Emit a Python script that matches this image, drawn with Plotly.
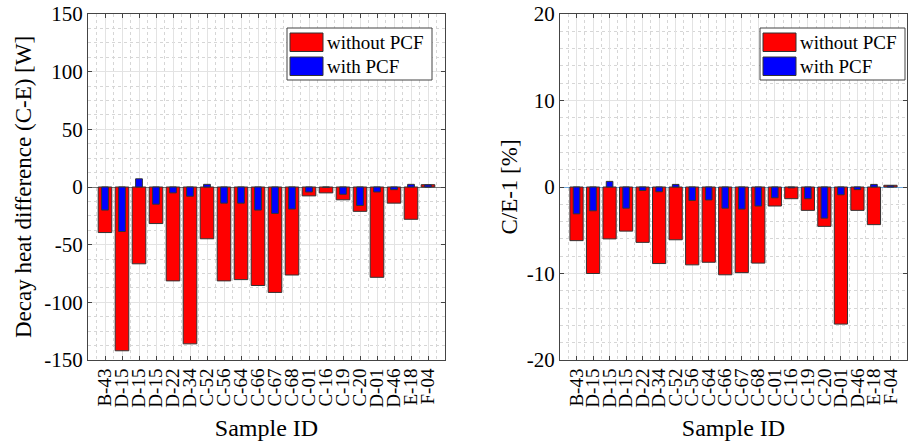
import plotly.graph_objects as go

labels = ["B-43", "D-15", "D-15", "D-15", "D-22", "D-34", "C-52", "C-56", "C-64", "C-66",
          "C-67", "C-68", "C-01", "C-16", "C-19", "C-20", "D-01", "D-46", "E-18", "F-04"]
heat_without = [-39.5, -142, -66.6, -31.7, -81.4, -136, -44.9, -81.4, -80.3, -85.4,
                -91.4, -76.3, -7.7, -5.1, -11.1, -21.1, -78.3, -14, -28, 2]
heat_with = [-20, -38.6, 7.1, -14.9, -5.1, -8, 2.3, -14, -14, -20,
             -22.9, -19.1, -4.3, -0.3, -6.3, -16, -4.3, -2.3, 2.3, 1.8]
ratio_without = [-6.2, -10.0, -6.0, -5.1, -6.4, -8.85, -6.1, -9.0, -8.7, -10.15,
                 -9.9, -8.8, -2.2, -1.35, -2.7, -4.55, -15.85, -2.7, -4.35, 0.2]
ratio_with = [-3.1, -2.75, 0.65, -2.45, -0.4, -0.55, 0.3, -1.55, -1.5, -2.45,
              -2.55, -2.2, -1.25, -0.1, -1.35, -3.6, -0.9, -0.3, 0.3, 0.15]
heat_ticks = [150, 100, 50, 0, -50, -100, -150]
ratio_ticks = [20, 10, 0, -10, -20]
series_names = ["without PCF", "with PCF"]

xs = list(range(1, len(labels) + 1))
FONT = "'Liberation Serif', 'Times New Roman', Times, serif"
RED = "#ff0000"
BLUE = "#0000ff"
EDGE = "#333333"
COLORS = [RED, BLUE]

fig = go.Figure()
fig.add_trace(go.Bar(x=xs, y=heat_without, width=0.8, name=series_names[0],
                     marker=dict(color=RED, line=dict(color=EDGE, width=1)),
                     xaxis="x", yaxis="y", showlegend=False))
fig.add_trace(go.Bar(x=xs, y=heat_with, width=0.4, name=series_names[1],
                     marker=dict(color=BLUE, line=dict(color=EDGE, width=1)),
                     xaxis="x", yaxis="y", showlegend=False))
fig.add_trace(go.Bar(x=xs, y=ratio_without, width=0.8, name=series_names[0],
                     marker=dict(color=RED, line=dict(color=EDGE, width=1)),
                     xaxis="x2", yaxis="y2", showlegend=False))
fig.add_trace(go.Bar(x=xs, y=ratio_with, width=0.4, name=series_names[1],
                     marker=dict(color=BLUE, line=dict(color=EDGE, width=1)),
                     xaxis="x2", yaxis="y2", showlegend=False))

L, R, T, B = 88, 2, 14, 87
W, H = 909, 447
pw = W - L - R


def xd(px):
    return (px - L) / pw


def yd(py):
    return (H - B - py) / (H - T - B)


common_x = dict(
    range=[0, 21], tickmode="array", tickvals=xs, ticktext=labels, tickangle=-90,
    tickfont=dict(family=FONT, size=19, color="black"),
    ticks="inside", ticklen=4, tickcolor="#444", showline=True, linecolor="#444",
    linewidth=1, mirror="allticks", showgrid=True, gridcolor="#e3e3e3", gridwidth=1,
    minor=dict(tick0=0.5, dtick=1, showgrid=True, gridcolor="#d6d6d6", griddash="dot",
               ticks=""),
    zeroline=False,
    title=dict(text="Sample ID", font=dict(family=FONT, size=24, color="black"), standoff=12),
    automargin=False,
)
common_y = dict(
    ticks="inside", ticklen=4, tickcolor="#444", showline=True, linecolor="#444",
    linewidth=1, mirror="allticks", showgrid=True, gridcolor="#e3e3e3", gridwidth=1,
    tickfont=dict(family=FONT, size=21, color="black"), automargin=False,
)

# legend boxes drawn as decorations (box left/right px)
shapes = []
annotations = []
for box_l, box_r in [(287, 432), (760, 905)]:
    shapes.append(dict(type="rect", xref="paper", yref="paper",
                       x0=xd(box_l), x1=xd(box_r), y0=yd(80), y1=yd(28),
                       fillcolor="white", line=dict(color="#444", width=1), layer="above"))
    for i, (nm, col) in enumerate(zip(series_names, COLORS)):
        top = 33 + i * 24
        shapes.append(dict(type="rect", xref="paper", yref="paper",
                           x0=xd(box_l + 3), x1=xd(box_l + 36), y0=yd(top + 18.5), y1=yd(top),
                           fillcolor=col, line=dict(color="#333", width=1), layer="above"))
        annotations.append(dict(xref="paper", yref="paper", x=xd(box_l + 38), y=yd(top + 9.5),
                                xanchor="left", yanchor="middle", showarrow=False, text=nm,
                                font=dict(family=FONT, size=19, color="black")))

fig.update_layout(
    width=W, height=H, margin=dict(l=L, r=R, t=T, b=B),
    paper_bgcolor="white", plot_bgcolor="white", barmode="overlay",
    font=dict(family=FONT, color="black"), showlegend=False,
    xaxis=dict(domain=[0, xd(445)], anchor="y", **common_x),
    xaxis2=dict(domain=[xd(560), 1], anchor="y2", **common_x),
    yaxis=dict(domain=[0, 1], anchor="x", range=[-150, 150], tickmode="array",
               tickvals=heat_ticks, ticktext=[str(v) for v in heat_ticks],
               minor=dict(dtick=12.5, tick0=0, showgrid=True, gridcolor="#d6d6d6",
                          griddash="dot", ticks=""),
               zeroline=True, zerolinecolor="#777", zerolinewidth=1,
               title=dict(text="Decay heat difference (C-E) [W]",
                          font=dict(family=FONT, size=23, color="black"), standoff=6),
               **common_y),
    yaxis2=dict(domain=[0, 1], anchor="x2", range=[-20, 20], tickmode="array",
                tickvals=ratio_ticks, ticktext=[str(v) for v in ratio_ticks],
                minor=dict(dtick=2, tick0=0, showgrid=True, gridcolor="#d6d6d6",
                           griddash="dot", ticks=""),
                zeroline=True, zerolinecolor="#6fa8dc", zerolinewidth=1,
                title=dict(text="C/E-1 [%]",
                           font=dict(family=FONT, size=23, color="black"), standoff=2),
                **common_y),
    shapes=shapes,
    annotations=annotations,
)

fig.write_html("out.html")
